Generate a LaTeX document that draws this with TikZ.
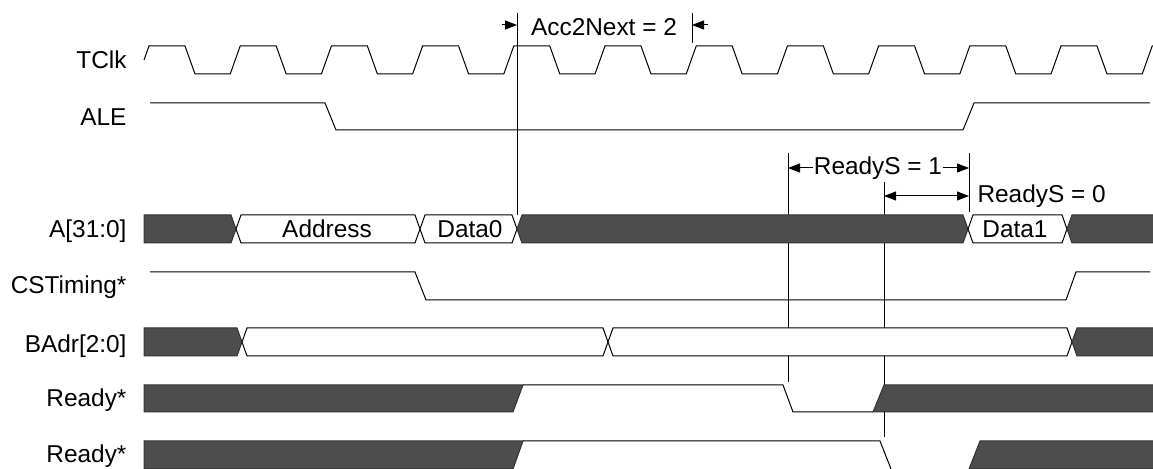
\documentclass[tikz,border=0pt]{standalone}
\usepackage{fontspec}
\setmainfont{Liberation Sans}
\usetikzlibrary{arrows.meta}
\definecolor{busgray}{RGB}{77,77,77}
\newcommand\busseg[4][whitebus]{%
  \draw[#1] (#2,#4) -- ++(5,-14) -- ({#3-5},{#4-14}) -- (#3,#4)
    -- ({#3-5},{#4+14}) -- ({#2+5},{#4+14}) -- cycle;}
\begin{document}
\begin{tikzpicture}
  [x=0.5pt, y=-0.5pt, line width=0.5pt,
   every node/.style={font=\fontsize{12.2}{14}\selectfont, inner sep=0pt},
   siglabel/.style={anchor=base east},
   whitebus/.style={draw=black, fill=white},
   darkbus/.style={draw=black!80, fill=busgray},
   dimarrow/.style={-{Triangle[length=6pt,width=4.5pt]}},
   dimboth/.style={{Triangle[length=6pt,width=4.5pt]}-{Triangle[length=6pt,width=4.5pt]}}]

  \useasboundingbox (0,0) rectangle (1153,469);

  \node[siglabel] (tclk)  at (127,69)  {TClk};
  \node[siglabel] (ale)   at (127,126) {ALE};
  \node[siglabel] (addrbus) at (127,238) {A[31:0]};
  \node[siglabel] (cst)   at (127,294) {CSTiming*};
  \node[siglabel] (badr)  at (127,353) {BAdr[2:0]};
  \node[siglabel] (rdyA)  at (127,407) {Ready*};
  \node[siglabel] (rdyB)  at (127,463) {Ready*};

  % marker lines
  \coordinate (mk1 top) at (517,13);  \coordinate (mk1 bot) at (517,215);
  \coordinate (mk2 top) at (692,13);  \coordinate (mk2 bot) at (692,43);
  \coordinate (mk3 top) at (788,153); \coordinate (mk3 bot) at (788,382);
  \coordinate (mk4 top) at (884,182); \coordinate (mk4 bot) at (884,437);
  \coordinate (mk5 top) at (969,153); \coordinate (mk5 bot) at (969,212);
  \foreach \m in {1,...,5}
    \draw (mk\m\space top) -- (mk\m\space bot);

  % clock
  \draw (144,60) -- (149,46) -- (185,46) -- (195,74)
    foreach \k in {1,...,11} { -- ({139+91.2*\k},74) -- ++(10,-28) -- ++(36,0) -- ++(10,28) };

  \draw (150,103) -- (325,103) -- (336,130) -- (963,130) -- (974,103) -- (1150,103);

  % A[31:0]
  \draw[darkbus] (144,215) -- (231,215) -- (236,229) -- (231,243) -- (144,243) -- cycle;
  \busseg{236}{420}{229}
  \busseg{420}{517}{229}
  \busseg[darkbus]{517}{968}{229}
  \busseg{968}{1067}{229}
  \busseg[darkbus]{1067}{1200}{229}

  \draw (150,272) -- (415,272) -- (426,300) -- (1066,300) -- (1076,272) -- (1150,272);

  % BAdr[2:0]
  \draw[darkbus] (144,328) -- (237,328) -- (242,342) -- (237,356) -- (144,356) -- cycle;
  \busseg{242}{608}{342}
  \busseg{608}{1072}{342}
  \busseg[darkbus]{1072}{1200}{342}

  % Ready*
  \draw[darkbus] (144,385) -- (523,385) -- (513,412) -- (144,412) -- cycle;
  \draw (523,385) -- (783,385) -- (793,412) -- (873,412);
  \draw[darkbus] (873,412) -- (884,385) -- (1160,385) -- (1160,412) -- cycle;

  \draw[darkbus] (144,441) -- (523,441) -- (513,469) -- (144,469) -- cycle;
  \draw (523,441) -- (880,441) -- (891,469);
  \draw[darkbus] (969,469) -- (980,441) -- (1160,441) -- (1160,469) -- cycle;

  \node[anchor=base] (address) at (327,238)  {Address};
  \node[anchor=base] (data0)   at (470,238)  {Data0};
  \node[anchor=base] (data1)   at (1015,238) {Data1};

  % dimensions
  \coordinate (accL) at (517,25); \coordinate (accR) at (692,25);
  \node[anchor=base] (acc) at (604,36) {Acc2Next = 2};
  \draw[dimarrow] ([xshift=-7.5pt]accL) -- (accL);
  \draw[dimarrow] ([xshift=8pt]accR) -- (accR);

  \coordinate (rs1L) at (788,168); \coordinate (rs1R) at (969,168);
  \node[anchor=base] (rs1) at (878,175) {ReadyS = 1};
  \draw[dimarrow] (rs1.west |- rs1L) -- (rs1L);
  \draw[dimarrow] (rs1.east |- rs1R) -- (rs1R);

  \coordinate (rs0L) at (884,196); \coordinate (rs0R) at (969,196);
  \draw[dimboth] (rs0L) -- (rs0R);
  \node[anchor=base west] (rs0) at (977,203) {ReadyS = 0};
\end{tikzpicture}
\end{document}
